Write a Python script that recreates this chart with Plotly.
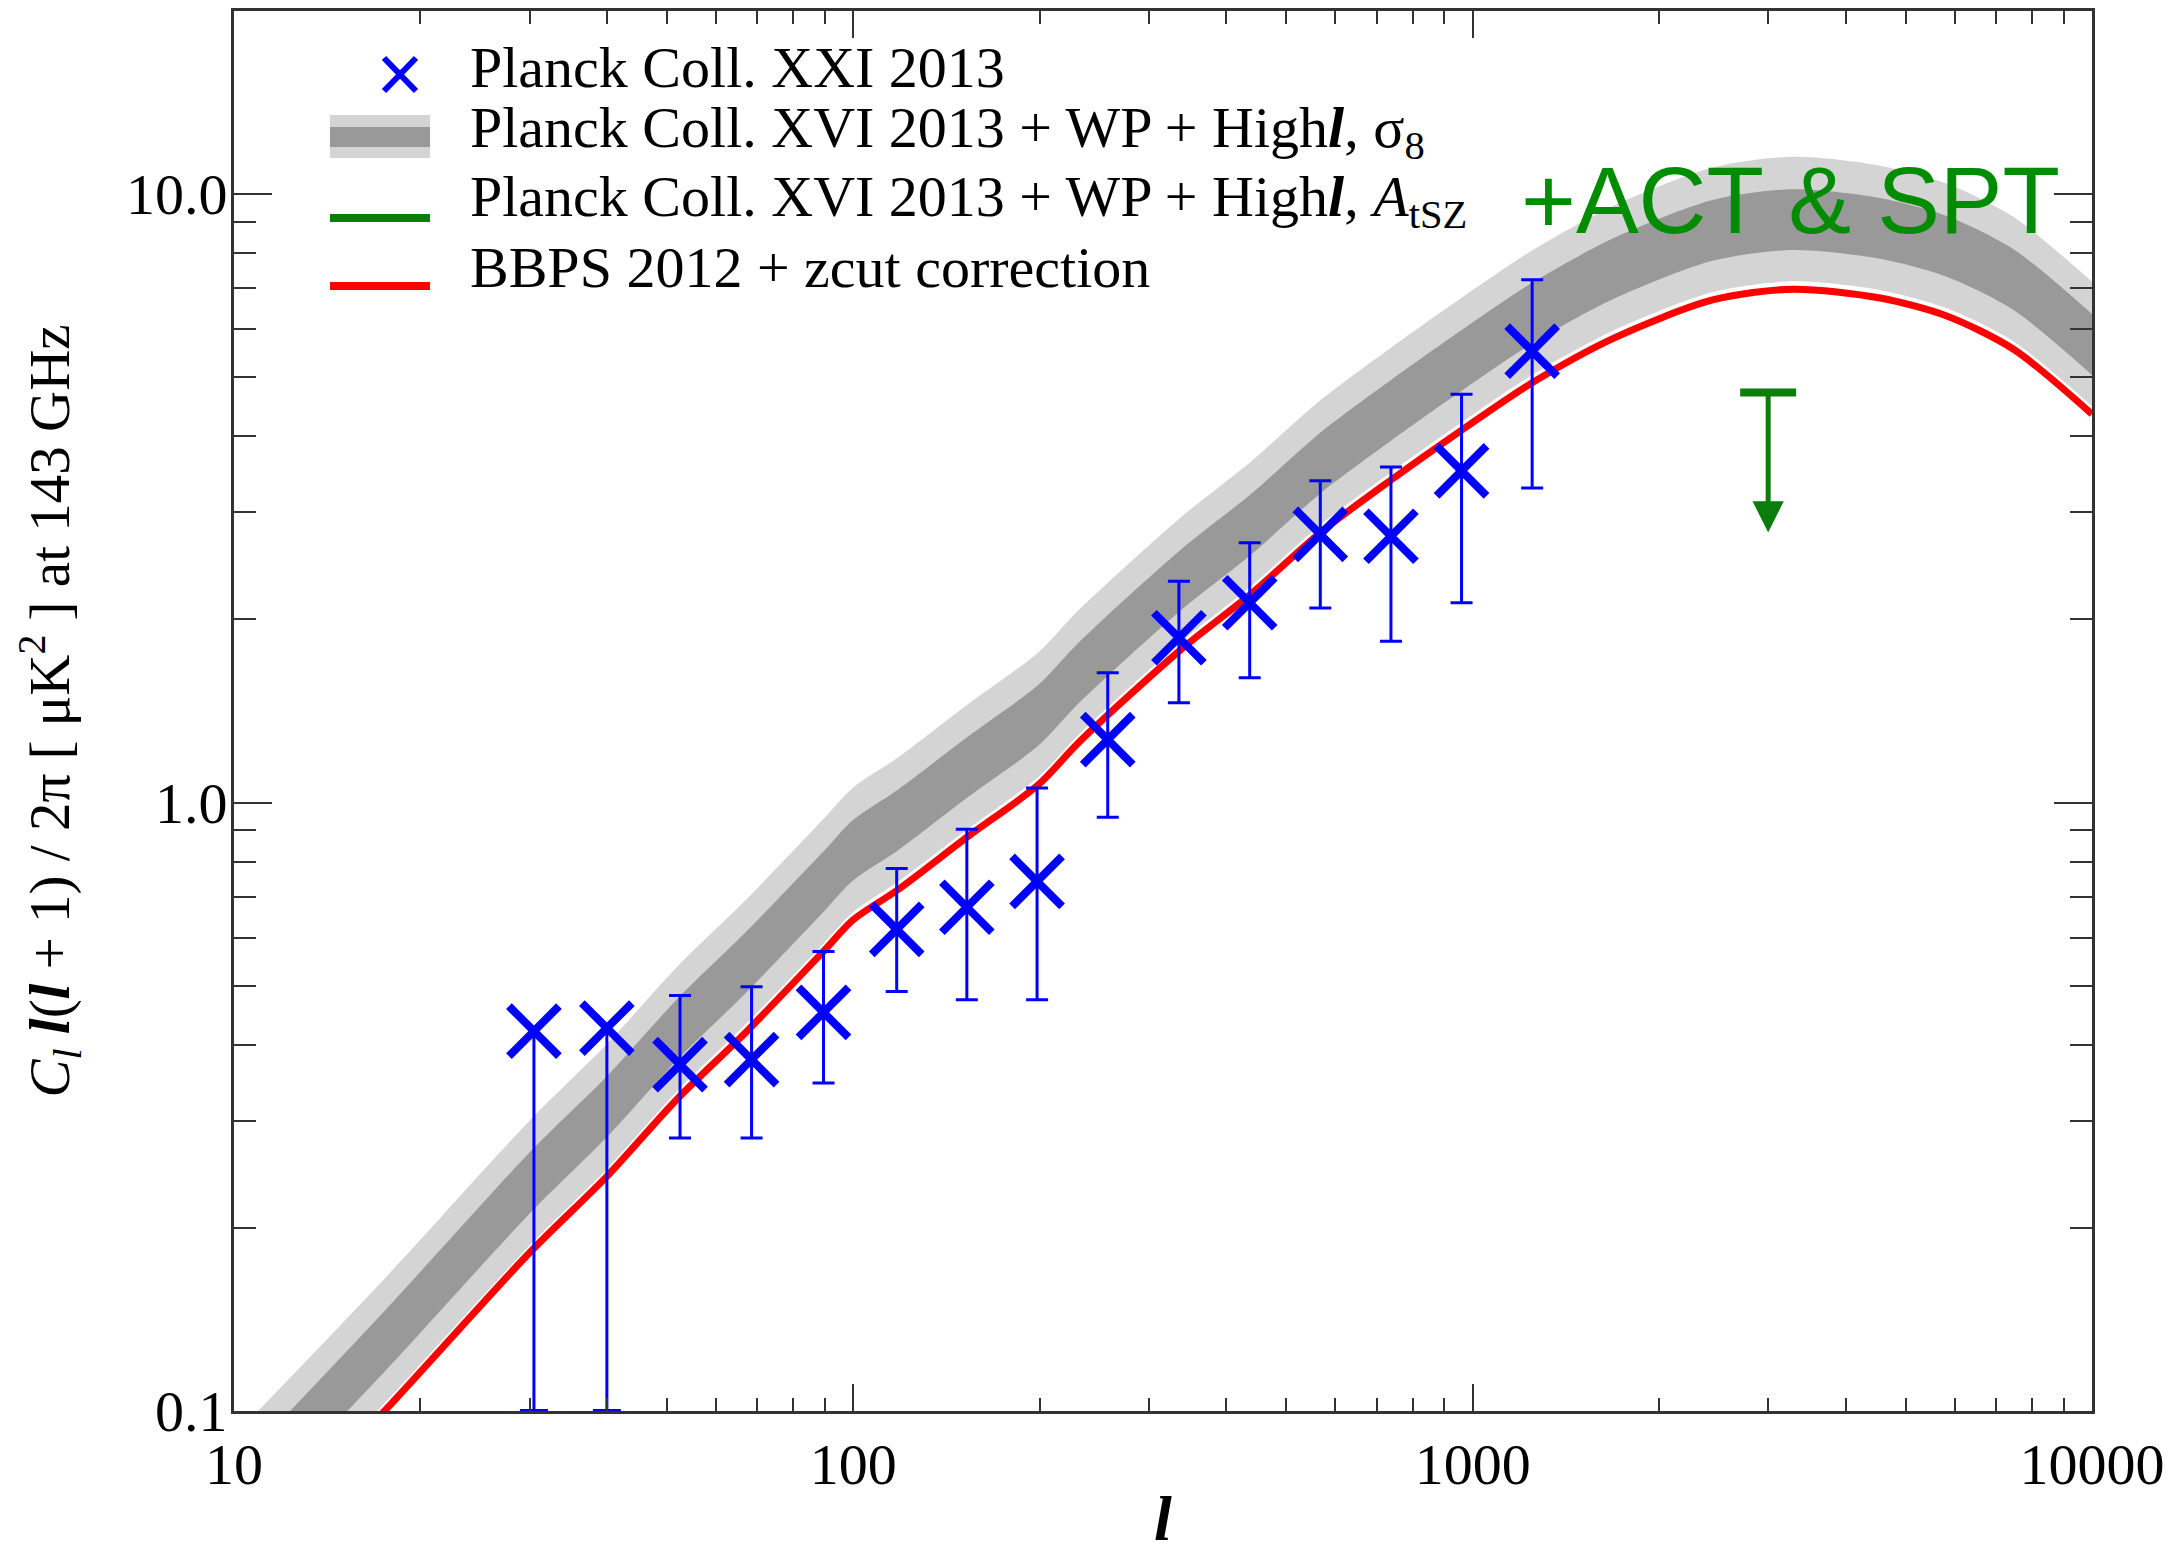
import numpy as np
import plotly.graph_objects as go

# ---------------- data ----------------
# Planck Coll. XXI 2013 tSZ power spectrum points
ell_pts = [30.5, 40, 52.5, 68.5, 89.5, 117.5, 152.5, 198, 257.5, 335.5, 436.5, 567.5, 738, 959.5, 1247.5]
cl_pts = [0.421, 0.426, 0.371, 0.378, 0.452, 0.619, 0.673, 0.742, 1.269, 1.866, 2.13, 2.76, 2.74, 3.51, 5.52]
cl_hi = [0.421, 0.426, 0.482, 0.498, 0.569, 0.779, 0.904, 1.057, 1.634, 2.31, 2.674, 3.38, 3.56, 4.69, 7.23]
cl_lo = [0.1, 0.1, 0.281, 0.281, 0.346, 0.489, 0.474, 0.474, 0.946, 1.459, 1.604, 2.089, 1.842, 2.13, 3.29]
n_limit = 2  # first two points: bars reach the bottom of the axis

# model multipoles
ell_model = [10, 17.5, 30, 40, 52, 67, 89, 100, 118, 153, 199, 232, 337, 438, 568, 741, 955,
             1240, 1690, 2440, 3290, 4550, 5840, 7470, 10000]
# BBPS 2012 + zcut correction
bbps = [0.055, 0.100, 0.182, 0.243, 0.326, 0.419, 0.566, 0.642, 0.719, 0.879, 1.07, 1.26, 1.78,
        2.20, 2.78, 3.40, 4.08, 4.88, 5.80, 6.70, 6.98, 6.75, 6.30, 5.56, 4.35]
# Planck XVI + WP + High-l, sigma8 prediction bands
band_outer_hi = [0.091, 0.165, 0.300, 0.401, 0.538, 0.691, 0.934, 1.059, 1.186, 1.450, 1.766, 2.08,
                 2.937, 3.63, 4.587, 5.61, 6.732, 8.05, 9.57, 11.06, 11.52, 11.14, 10.40, 9.17, 7.18]
band_inner_hi = [0.080, 0.146, 0.266, 0.355, 0.476, 0.612, 0.826, 0.937, 1.050, 1.283, 1.562, 1.84,
                 2.599, 3.212, 4.059, 4.964, 5.957, 7.125, 8.468, 9.782, 10.19, 9.855, 9.198, 8.118, 6.351]
band_inner_lo = [0.064, 0.116, 0.211, 0.282, 0.378, 0.486, 0.657, 0.745, 0.834, 1.020, 1.241, 1.462,
                 2.065, 2.552, 3.225, 3.944, 4.733, 5.661, 6.728, 7.772, 8.097, 7.83, 7.308, 6.45, 5.046]
band_outer_lo = [0.057, 0.103, 0.187, 0.250, 0.336, 0.432, 0.583, 0.661, 0.741, 0.905, 1.102, 1.298,
                 1.833, 2.266, 2.863, 3.502, 4.202, 5.026, 5.974, 6.901, 7.189, 6.953, 6.489, 5.727, 4.481]

# ACT & SPT upper limit
act_ell = [3000]
act_upper = [4.72]
act_tip = [2.78]

x_tickvals = [10, 100, 1000, 10000]
x_ticktext = ["10", "100", "1000", "10000"]
y_tickvals = [0.1, 1, 10]
y_ticktext = ["0.1", "1.0", "10.0"]

legend_labels = [
    "Planck Coll. XXI 2013",
    "Planck Coll. XVI 2013 + WP + High<b><i>l</i></b>, σ<sub>8</sub>",
    "Planck Coll. XVI 2013 + WP + High<b><i>l</i></b>, <i>A</i><sub>tSZ</sub>",
    "BBPS 2012 + zcut correction",
]

# ---------------- style ----------------
BLUE = "#0000ff"
RED = "#ff0000"
LIGHT = "#d4d4d4"
DARK = "#999999"
GREEN = "#0a7d0a"
TXTGREEN = "#008c00"
AXC = "#333333"
SERIF = "Liberation Serif"
SMOOTH = 0.8

W, H = 2179, 1554
ML, MR, MT, MB = 234, 87, 11, 143
PW, PH = W - ML - MR, H - MT - MB


def px(x):
    return (x - ML) / PW


def py(y):
    return (H - MB - y) / PH


fig = go.Figure()

# bands
spl = dict(width=0, shape="spline", smoothing=SMOOTH)
fig.add_trace(go.Scatter(x=ell_model, y=band_outer_lo, mode="lines", line=spl,
                         showlegend=False, hoverinfo="skip"))
fig.add_trace(go.Scatter(x=ell_model, y=band_outer_hi, mode="lines", line=spl,
                         fill="tonexty", fillcolor=LIGHT, showlegend=False, hoverinfo="skip"))
fig.add_trace(go.Scatter(x=ell_model, y=band_inner_lo, mode="lines", line=spl,
                         showlegend=False, hoverinfo="skip"))
fig.add_trace(go.Scatter(x=ell_model, y=band_inner_hi, mode="lines", line=spl,
                         fill="tonexty", fillcolor=DARK, showlegend=False, hoverinfo="skip"))

# BBPS line
fig.add_trace(go.Scatter(x=ell_model, y=bbps, mode="lines",
                         line=dict(color=RED, width=7, shape="spline", smoothing=SMOOTH),
                         showlegend=False))

# data points: first two (bars down to axis, no upper bar)
ya = np.array(cl_pts)
yh = np.array(cl_hi)
yl = np.array(cl_lo)
mk = dict(symbol="x-thin", size=50, color=BLUE, line=dict(color=BLUE, width=8))
fig.add_trace(go.Scatter(
    x=ell_pts[:n_limit], y=cl_pts[:n_limit], mode="markers", marker=mk,
    error_y=dict(type="data", symmetric=False, array=list(yh[:n_limit] - ya[:n_limit]),
                 arrayminus=list(ya[:n_limit] - yl[:n_limit]), width=0, thickness=3, color=BLUE),
    showlegend=False))
fig.add_trace(go.Scatter(
    x=ell_pts[:n_limit], y=cl_lo[:n_limit], mode="markers", cliponaxis=False,
    marker=dict(symbol="line-ew", size=20, color=BLUE, line=dict(color=BLUE, width=4)),
    showlegend=False, hoverinfo="skip"))
fig.add_trace(go.Scatter(
    x=ell_pts[n_limit:], y=cl_pts[n_limit:], mode="markers", marker=mk,
    error_y=dict(type="data", symmetric=False, array=list(yh[n_limit:] - ya[n_limit:]),
                 arrayminus=list(ya[n_limit:] - yl[n_limit:]), width=11, thickness=3, color=BLUE),
    showlegend=False))

# ACT & SPT upper limit cap
fig.add_trace(go.Scatter(
    x=act_ell, y=act_upper, mode="markers",
    marker=dict(symbol="line-ew", size=40, color=GREEN, line=dict(color=GREEN, width=8)),
    showlegend=False, hoverinfo="skip"))

annotations = [
    dict(x=np.log10(act_ell[0]), y=np.log10(act_tip[0]), ax=np.log10(act_ell[0]), ay=np.log10(act_upper[0]),
         xref="x", yref="y", axref="x", ayref="y", text="", showarrow=True, arrowhead=2,
         arrowsize=1.25, arrowwidth=5, arrowcolor=GREEN, standoff=0, startstandoff=0),
    dict(x=px(1519), y=py(201), xref="paper", yref="paper", xanchor="left", yanchor="middle",
         text="+ACT &amp; SPT", showarrow=False, font=dict(family="Liberation Sans", size=94, color=TXTGREEN)),
]
row_y = [67, 132, 200, 267]
for lab, ry in zip(legend_labels, row_y):
    annotations.append(dict(x=px(468), y=py(ry), xref="paper", yref="paper", xanchor="left", yanchor="middle",
                            text=lab, showarrow=False, font=dict(family=SERIF, size=58, color="black")))

shapes = [
    # band legend symbol
    dict(type="rect", xref="paper", yref="paper", x0=px(330), x1=px(430), y0=py(158), y1=py(115),
         fillcolor=LIGHT, line=dict(width=0)),
    dict(type="rect", xref="paper", yref="paper", x0=px(330), x1=px(430), y0=py(147), y1=py(127),
         fillcolor=DARK, line=dict(width=0)),
    # green line legend symbol
    dict(type="line", xref="paper", yref="paper", x0=px(330), x1=px(430), y0=py(218), y1=py(218),
         line=dict(color=GREEN, width=8)),
    # red line legend symbol
    dict(type="line", xref="paper", yref="paper", x0=px(330), x1=px(430), y0=py(286), y1=py(286),
         line=dict(color=RED, width=8)),
    # blue cross legend symbol
    dict(type="line", xref="paper", yref="paper", x0=px(384), x1=px(416), y0=py(58), y1=py(91),
         line=dict(color=BLUE, width=6)),
    dict(type="line", xref="paper", yref="paper", x0=px(384), x1=px(416), y0=py(91), y1=py(58),
         line=dict(color=BLUE, width=6)),
]

x_minor = [m * 10 ** k for k in range(1, 4) for m in range(2, 10)]
y_minor = [m * 10 ** k for k in range(-1, 2) for m in range(2, 10)]

fig.update_layout(
    width=W, height=H,
    margin=dict(l=ML, r=MR, t=MT, b=MB, pad=0),
    paper_bgcolor="white", plot_bgcolor="white",
    showlegend=False,
    annotations=annotations,
    shapes=shapes,
    font=dict(family=SERIF, color="black"),
    xaxis=dict(
        type="log", range=[1, 4], tickmode="array", tickvals=x_tickvals, ticktext=x_ticktext,
        ticks="inside", ticklen=27, tickwidth=2, tickcolor=AXC,
        showline=True, linewidth=3, linecolor=AXC, mirror="ticks", showgrid=False, zeroline=False,
        tickfont=dict(family=SERIF, size=58, color="black"),
        minor=dict(tickmode="array", tickvals=x_minor, ticks="inside", ticklen=13, tickwidth=2, tickcolor=AXC,
                   showgrid=False),
        title=dict(text="<b><i>l</i></b>", font=dict(family=SERIF, size=64, color="black"), standoff=16),
        automargin=False,
    ),
    yaxis=dict(
        type="log", range=[-1, np.log10(20)], tickmode="array", tickvals=y_tickvals, ticktext=y_ticktext,
        ticks="inside", ticklen=38, tickwidth=2, tickcolor=AXC,
        showline=True, linewidth=3, linecolor=AXC, mirror="ticks", showgrid=False, zeroline=False,
        tickfont=dict(family=SERIF, size=58, color="black"), ticklabelstandoff=-8,
        minor=dict(tickmode="array", tickvals=y_minor, ticks="inside", ticklen=22, tickwidth=2, tickcolor=AXC,
                   showgrid=False),
        title=dict(text="<i>C<sub>l</sub></i> <b><i>l</i></b>(<b><i>l</i></b> + 1) / 2π [ μK<sup>2</sup> ] at 143 GHz",
                   font=dict(family=SERIF, size=57, color="black"), standoff=38),
        automargin=False,
    ),
)

fig.write_html("out.html")
